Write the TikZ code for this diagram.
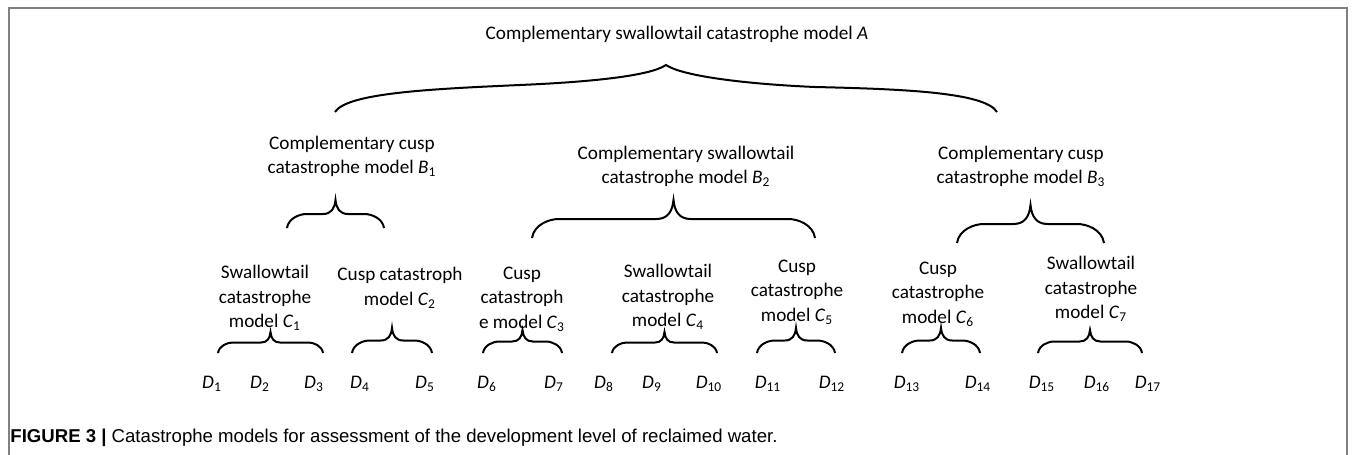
\documentclass[tikz,border=0pt]{standalone}
\usepackage{fontspec}
\setmainfont{Carlito}
\newfontfamily\capfont{Liberation Sans}
\usepackage{tikz}
\usetikzlibrary{calc}
\newcommand{\mvar}[2]{\textit{#1}\textsubscript{#2}}

\begin{document}
\begin{tikzpicture}[x=0.5pt, y=-0.5pt,
                    txt/.style={align=center, inner sep=0pt, font=\fontsize{9.6}{12.25}\selectfont},
                    curly/.style={line width=1pt, to path={
                      (\tikztostart) .. controls +(0.05*#1,0.35*#1) and +(-0.25*#1,0pt) .. ++(0.7*#1,0.5*#1)
                      -- ($(\tikztostart)!0.5!(\tikztotarget)+(-0.45*#1,0.5*#1)$)
                      .. controls +(0.3*#1,0pt) and +(-0.03*#1,-0.3*#1) .. ($(\tikztostart)!0.5!(\tikztotarget)+(0pt,#1)$)
                      .. controls +(0.03*#1,-0.3*#1) and +(-0.3*#1,0pt) .. ($(\tikztostart)!0.5!(\tikztotarget)+(0.45*#1,0.5*#1)$)
                      -- ($(\tikztotarget)+(-0.7*#1,0.5*#1)$)
                      .. controls +(0.25*#1,0pt) and +(-0.05*#1,0.35*#1) .. (\tikztotarget)}},
                    curly/.default=11.5pt]
  \useasboundingbox (0,0) rectangle (1355,455);
  \draw[gray, line width=0.6pt] (9,455) -- (9,8) -- (1347,8) -- (1347,455);

  \node[txt] (a) at (677,34) {Complementary swallowtail catastrophe model \textit{A}};

  \node[txt] (b1) at (352,156.5) {Complementary cusp\\catastrophe model \mvar{B}{1}};
  \node[txt] (b2) at (686,166.5) {Complementary swallowtail\\catastrophe model \mvar{B}{2}};
  \node[txt] (b3) at (1021,166.5) {Complementary cusp\\catastrophe model \mvar{B}{3}};

  \node[txt] (c1) at (265,298) {Swallowtail\\catastrophe\\model \mvar{C}{1}};
  \node[txt] (c2) at (400,288) {Cusp catastroph\\model \mvar{C}{2}};
  \node[txt] (c3) at (522,299) {Cusp\\catastroph\\e model \mvar{C}{3}};
  \node[txt] (c4) at (668,297) {Swallowtail\\catastrophe\\model \mvar{C}{4}};
  \node[txt] (c5) at (797,292) {Cusp\\catastrophe\\model \mvar{C}{5}};
  \node[txt] (c6) at (938,294) {Cusp\\catastrophe\\model \mvar{C}{6}};
  \node[txt] (c7) at (1091,289) {Swallowtail\\catastrophe\\model \mvar{C}{7}};

  \node[txt] (d1) at (212,384) {\mvar{D}{1}};
  \node[txt] (d2) at (260,384) {\mvar{D}{2}};
  \node[txt] (d3) at (314,384) {\mvar{D}{3}};
  \node[txt] (d4) at (360,384) {\mvar{D}{4}};
  \node[txt] (d5) at (425,384) {\mvar{D}{5}};
  \node[txt] (d6) at (487,384) {\mvar{D}{6}};
  \node[txt] (d7) at (554,384) {\mvar{D}{7}};
  \node[txt] (d8) at (604,384) {\mvar{D}{8}};
  \node[txt] (d9) at (652,384) {\mvar{D}{9}};
  \node[txt] (d10) at (709,384) {\mvar{D}{10}};
  \node[txt] (d11) at (768,384) {\mvar{D}{11}};
  \node[txt] (d12) at (832,384) {\mvar{D}{12}};
  \node[txt] (d13) at (907,384) {\mvar{D}{13}};
  \node[txt] (d14) at (978,384) {\mvar{D}{14}};
  \node[txt] (d15) at (1042,384) {\mvar{D}{15}};
  \node[txt] (d16) at (1097,384) {\mvar{D}{16}};
  \node[txt] (d17) at (1148,384) {\mvar{D}{17}};

  % brace ends
  \coordinate (al) at (335,112);
  \coordinate (at) at (666,65);
  \coordinate (ar) at (997,112);
  \coordinate (b1l) at (287,228);
  \coordinate (b1r) at (384,228);
  \coordinate (b2l) at (532,238);
  \coordinate (b2r) at (815,238);
  \coordinate (b3l) at (957,243);
  \coordinate (b3r) at (1104,243);
  \coordinate (c1l) at (218,353);
  \coordinate (c1r) at (323,353);
  \coordinate (c2l) at (352,353);
  \coordinate (c2r) at (432,353);
  \coordinate (c3l) at (483,353);
  \coordinate (c3r) at (562,353);
  \coordinate (c4l) at (612,353);
  \coordinate (c4r) at (717,353);
  \coordinate (c5l) at (757,353);
  \coordinate (c5r) at (835,353);
  \coordinate (c6l) at (902,353);
  \coordinate (c6r) at (980,353);
  \coordinate (c7l) at (1038,353);
  \coordinate (c7r) at (1142,353);

  \draw[line width=1pt] (al) .. controls (347,93) and (430,89) .. (520,85)
    .. controls (590,82) and (650,76) .. (at)
    .. controls (682,76) and (745,84) .. (815,87)
    .. controls (900,89) and (985,92) .. (ar);

  \draw[curly=14pt] (b1l) to (b1r);
  \draw[curly=19pt] (b2l) to (b2r);
  \draw[curly=19pt] (b3l) to (b3r);
  \draw[curly=10.5pt] (c1l) to (c1r);
  \draw[curly=12.5pt] (c2l) to (c2r);
  \draw[curly] (c3l) to (c3r);
  \draw[curly=10.5pt] (c4l) to (c4r);
  \draw[curly=12.5pt] (c5l) to (c5r);
  \draw[curly=12.5pt] (c6l) to (c6r);
  \draw[curly] (c7l) to (c7r);

  \node[anchor=west, inner sep=0pt, font=\capfont\fontsize{9.3}{11}\selectfont] (cap) at (10,438)
    {\textbf{FIGURE 3 |} Catastrophe models for assessment of the development level of reclaimed water.};
\end{tikzpicture}
\end{document}
